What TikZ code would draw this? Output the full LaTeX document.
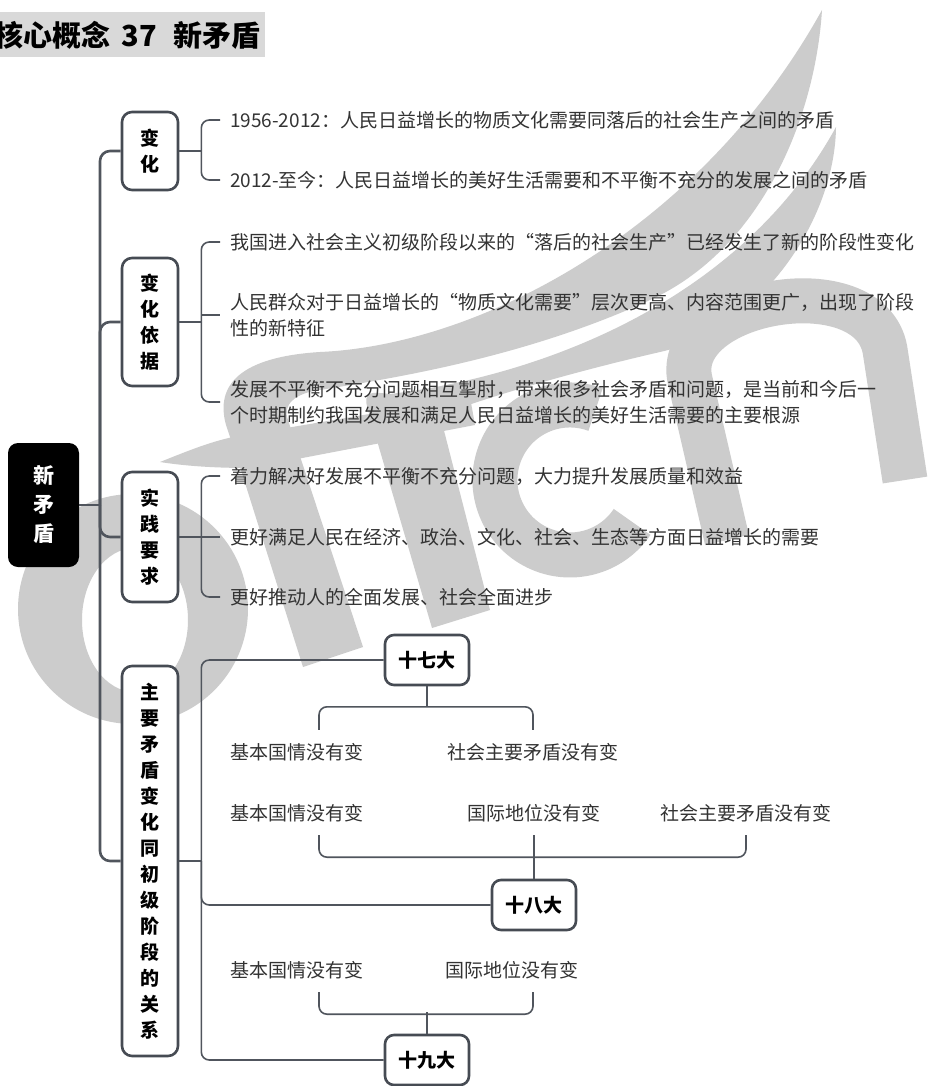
\documentclass[tikz,border=0pt]{standalone}
\usepackage{fontspec}
\setmainfont{Noto Sans CJK SC}
\usetikzlibrary{calc}
\definecolor{linec}{HTML}{50555D}
\definecolor{boxc}{HTML}{464B53}
\definecolor{txt}{HTML}{333333}
\definecolor{wm}{HTML}{CCCCCC}
\definecolor{titlebg}{HTML}{D9D9D9}
\begin{document}
\begin{tikzpicture}[x=1pt,y=1pt,
  branch/.style={draw=boxc, line width=2.6pt, rounded corners=10pt, fill=white, minimum width=56pt, inner sep=0pt, align=center, font=\fontsize{19}{26}\selectfont\bfseries, text=black},
  rootbox/.style={fill=black, rounded corners=10pt, minimum width=71pt, minimum height=124pt, inner sep=0pt, align=center, text=white, font=\fontsize{21}{29}\selectfont\bfseries},
  leaf/.style={inner sep=0pt, anchor=west, align=left, text=txt, font=\fontsize{19}{26}\selectfont},
  cong/.style={draw=boxc, line width=2.6pt, rounded corners=9pt, fill=white, minimum width=84pt, minimum height=50pt, inner sep=0pt, text=black, font=\fontsize{19}{22}\selectfont\bfseries},
  item/.style={inner sep=0pt, minimum height=44pt, text=txt, font=\fontsize{19}{22}\selectfont},
  trunk/.style={draw=linec, line width=2.6pt, rounded corners=10pt},
  twig/.style={draw=linec, line width=1.6pt, rounded corners=8pt},
]
\useasboundingbox (0,0) rectangle (930,-1086);
\fill[white] (0,0) rectangle (930,-1086);
% watermark "offcn"
\fill[wm, even odd rule] (133,-609) circle (115) (135,-620) ellipse (53 and 72);
\fill[wm] (303,-667) -- (240,-467) -- (226,-425) .. controls (215,-385) and (240,-357) .. (320,-352)
  .. controls (480,-345) and (700,-230) .. (822,-10)
  .. controls (815,-120) and (760,-250) .. (650,-300)
  .. controls (520,-360) and (380,-380) .. (320,-390)
  .. controls (295,-393) and (282,-405) .. (288,-420) -- (363,-647) -- cycle;
\fill[wm] (160,-462) .. controls (190,-450) and (210,-442) .. (233,-437) -- (470,-397) -- (475,-425) -- (250,-468) .. controls (215,-468) and (185,-466) .. (160,-462) -- cycle;
\fill[wm] (432,-628) -- (368,-410) .. controls (362,-390) and (372,-392) .. (390,-394)
  .. controls (540,-376) and (740,-302) .. (836,-127)
  .. controls (835,-220) and (760,-330) .. (660,-352)
  .. controls (560,-375) and (480,-400) .. (440,-415) -- (490,-610) -- cycle;
\draw[wm, line width=45pt] (595.6,-409.5) arc[start angle=70, end angle=326, radius=75];
\draw[wm, line width=45pt] (727,-540) -- (690,-380) .. controls (672,-300) and (870,-265) .. (885,-350) -- (905,-480);
% title
\fill[titlebg] (0,-12) rectangle (265,-57);
\node[anchor=east, inner sep=0pt, font=\fontsize{29}{30}\selectfont\bfseries] (title) at (261,-35) {核心概念\hspace{11pt}37\hspace{17pt}新矛盾};
% root and branches
\node[rootbox] (root) at (43.5,-505) {新\\矛\\盾};
\node[branch, minimum height=78pt] (b1) at (150,-151) {变\\化};
\node[branch, minimum height=128pt] (b2) at (150,-322) {变\\化\\依\\据};
\node[branch, minimum height=130pt] (b3) at (150,-537) {实\\践\\要\\求};
\node[branch, minimum height=390pt] (b4) at (150,-861) {主\\要\\矛\\盾\\变\\化\\同\\初\\级\\阶\\段\\的\\关\\系};
\coordinate (tr) at (100,-505);
\draw[trunk] (root.east) -- (tr);
\draw[trunk] (tr) |- (b1.west);
\draw[trunk] (tr) |- (b2.west);
\draw[trunk] (tr) |- (b3.west);
\draw[trunk] (tr) |- (b4.west);
% leaves
\node[leaf] (l1a) at (230,-120) {1956-2012：人民日益增长的物质文化需要同落后的社会生产之间的矛盾};
\node[leaf] (l1b) at (230,-180) {2012-至今：人民日益增长的美好生活需要和不平衡不充分的发展之间的矛盾};
\node[leaf] (l2a) at (230,-242) {我国进入社会主义初级阶段以来的“落后的社会生产”已经发生了新的阶段性变化};
\node[leaf] (l2b) at (230,-315) {人民群众对于日益增长的“物质文化需要”层次更高、内容范围更广，出现了阶段\\性的新特征};
\node[leaf] (l2c) at (230,-402) {发展不平衡不充分问题相互掣肘，带来很多社会矛盾和问题，是当前和今后一\\个时期制约我国发展和满足人民日益增长的美好生活需要的主要根源};
\node[leaf] (l3a) at (230,-476) {着力解决好发展不平衡不充分问题，大力提升发展质量和效益};
\node[leaf] (l3b) at (230,-537) {更好满足人民在经济、政治、文化、社会、生态等方面日益增长的需要};
\node[leaf] (l3c) at (230,-597) {更好推动人的全面发展、社会全面进步};
\coordinate (c1) at ($(b1.east)+(22,0)$);
\coordinate (c2) at ($(b2.east)+(22,0)$);
\coordinate (c3) at ($(b3.east)+(22,0)$);
\coordinate (c4) at ($(b4.east)+(22,0)$);
\draw[twig] (b1.east) -- (c1);
\draw[twig] (c1) |- ([xshift=-10pt]l1a.west);
\draw[twig] (c1) |- ([xshift=-10pt]l1b.west);
\draw[twig] (b2.east) -- (c2);
\draw[twig] (c2) |- ([xshift=-10pt]l2a.west);
\draw[twig] (c2 |- l2b.west) -- ([xshift=-10pt]l2b.west);
\draw[twig] (c2) |- ([xshift=-10pt]l2c.west);
\draw[twig] (b3.east) -- (c3);
\draw[twig] (c3) |- ([xshift=-10pt]l3a.west);
\draw[twig] (c3) -- ([xshift=-10pt]l3b.west);
\draw[twig] (c3) |- ([xshift=-10pt]l3c.west);
% congress section
\node[cong] (s17) at (427,-660) {十七大};
\node[cong] (s18) at (534,-905) {十八大};
\node[cong] (s19) at (427,-1060) {十九大};
\draw[twig] (b4.east) -- (c4);
\draw[twig] (c4) |- (s17.west);
\draw[twig] (c4) |- (s18.west);
\draw[twig] (c4) |- (s19.west);
\node[item, text width=178pt, align=left] (a1) at (319,-752) {基本国情没有变};
\node[item] (a2) at (533,-752) {社会主要矛盾没有变};
\node[item, text width=178pt, align=left] (m1) at (319,-813) {基本国情没有变};
\node[item] (m2) at (534,-813) {国际地位没有变};
\node[item] (m3) at (746,-813) {社会主要矛盾没有变};
\node[item, text width=178pt, align=left] (n1) at (319,-970) {基本国情没有变};
\node[item, text width=176pt, align=left] (n2) at (533,-970) {国际地位没有变};
\draw[twig] (s17.south) -- ++(0,-21);
\draw[twig] (a1.north) -- ++(0,23) -| (a2.north);
\draw[twig] (m1.south) -- ++(0,-22) -| (m3.south);
\draw[twig] (m2.south) -- (s18.north);
\draw[twig] (n1.south) -- ++(0,-22) -| (n2.south);
\draw[twig] (s19.north) -- ++(0,21.5);
\end{tikzpicture}
\end{document}
